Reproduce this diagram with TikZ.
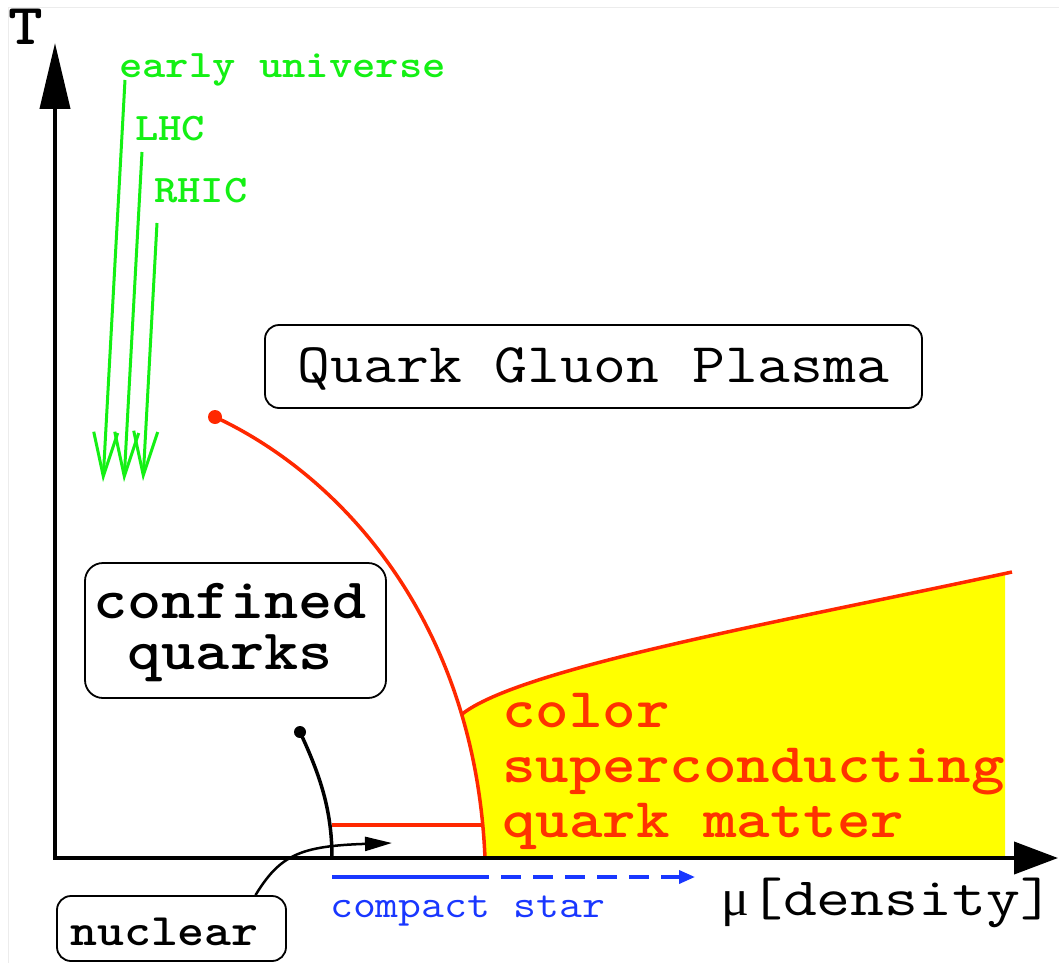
\documentclass[tikz,border=0pt]{standalone}
\usepackage{fontspec}
\setmainfont{Liberation Serif}
\usetikzlibrary{arrows.meta}
\definecolor{grn}{RGB}{20,240,20}
\definecolor{rd}{RGB}{255,40,0}
\definecolor{rdtxt}{RGB}{255,50,0}
\definecolor{ylw}{RGB}{255,255,0}
\definecolor{bl}{RGB}{25,55,255}
\newcommand{\courw}[1]{\scalebox{1.14}[1]{#1}}
\begin{document}
\begin{tikzpicture}[x=1pt,y=-1pt,
  box/.style={draw,line width=1.8pt,rounded corners=14pt,inner sep=0pt,font=\ttfamily},
  boxtext/.style={anchor=base,inner sep=0pt,font=\ttfamily\bfseries},
  greenarrow/.style={grn,line width=3pt,-{Straight Barb[length=44pt,width=24pt,line width=3pt]}},
  greenlabel/.style={grn,anchor=base west,inner sep=0pt,font=\ttfamily\bfseries\fontsize{39}{40}\selectfont},
  redlabel/.style={rdtxt,anchor=base west,inner sep=0pt,font=\ttfamily\bfseries\fontsize{56}{56}\selectfont},
  redline/.style={rd,line width=3.5pt}]
\useasboundingbox (0,0) rectangle (1059,963);
\fill[white] (0,0) rectangle (1059,963);
\draw[gray!15,line width=1pt] (8,963) -- (8,8) -- (1059,8);

% phase boundary curve and junction
\coordinate (C) at (215,417);
\coordinate (E) at (485,858);
\path (C) .. controls (340,475) and (475,620) .. coordinate[pos=0.78] (J) (E);
\coordinate (R) at (1012,572);

% yellow region
\begin{scope}
\clip (0,0) rectangle (1005,963);
\fill[ylw] (J) .. controls (520,668) and (780,622) .. (R) -- (1012,858) -- (E)
  .. controls (482.8,805.6) and (474.5,757.8) .. (J) -- cycle;
\end{scope}

% red lines
\draw[redline] (C) .. controls (340,475) and (475,620) .. (E);
\fill[rd] (C) circle (7);
\draw[redline] (J) .. controls (520,668) and (780,622) .. (R);
\coordinate (H1) at (332,825);
\coordinate (H2) at (483,825);
\draw[redline] (H1) -- (H2);

% axes
\coordinate (O) at (55,858);
\coordinate (Ttip) at (55,43);
\coordinate (Mtip) at (1058,858);
\draw[line width=4pt,line join=miter,{Triangle[length=66pt,width=30pt]}-{Triangle[length=44pt,width=32pt]}] (Ttip) -- (O) -- (Mtip);
\node[font=\ttfamily\bfseries\fontsize{58}{58}\selectfont,inner sep=0pt,anchor=base] (Tlab) at (26,45) {\courw{T}};
\node[anchor=base west,inner sep=0pt] (mulab) at (721,915)
  {\fontsize{52}{52}\selectfont μ\ttfamily\fontsize{54}{54}\selectfont\scalebox{1.22}[1]{[density]}};

% green arrows
\coordinate (eu1) at (125,80);  \coordinate (eu2) at (103,482);
\coordinate (lhc1) at (142,152); \coordinate (lhc2) at (124,482);
\coordinate (rh1) at (157,223); \coordinate (rh2) at (143,481);
\draw[greenarrow] (eu1) -- (eu2);
\draw[greenarrow] (lhc1) -- (lhc2);
\draw[greenarrow] (rh1) -- (rh2);
\node[greenlabel] (eulab) at (119,78) {\courw{early universe}};
\node[greenlabel] (lhclab) at (135,140) {\courw{LHC}};
\node[greenlabel] (rhiclab) at (154,202) {\courw{RHIC}};

% boxes
\node[box,minimum width=657pt,minimum height=83pt,text height=34pt,text depth=3pt,
  font=\ttfamily\fontsize{56}{56}\selectfont] (qgp) at (593.5,366.5) {\courw{Quark Gluon Plasma}};
\node[box,minimum width=301pt,minimum height=135pt,rounded corners=18pt] (conf) at (235.5,630.5) {};
\node[boxtext,font=\ttfamily\bfseries\fontsize{57}{57}\selectfont] (conf1) at (230,618) {\courw{confined}};
\node[boxtext,font=\ttfamily\bfseries\fontsize{57}{57}\selectfont] (conf2) at (230,669) {\courw{quarks}};
\node[box,minimum width=229pt,minimum height=65pt] (nuc) at (171.5,928.5) {};
\node[boxtext,font=\ttfamily\bfseries\fontsize{45}{45}\selectfont] (nuctext) at (164.5,945) {\courw{nuclear}};

% nuclear liquid-gas line
\coordinate (K) at (300,732);
\coordinate (Kb) at (332,858);
\fill (K) circle (6);
\draw[line width=3.5pt] (K) .. controls (320,775) and (332,810) .. (Kb);

% nuclear arrow
\coordinate (nucend) at (392,843);
\draw[line width=2.5pt,-{Triangle[length=27pt,width=14pt]}]
  ([xshift=84pt]nuc.north) .. controls (280,855) and (300,846) .. (nucend);

% compact star
\coordinate (B1) at (332,877);
\coordinate (B2) at (469,877);
\coordinate (B3) at (695,877);
\draw[bl,line width=4pt] (B1) -- (B2);
\draw[bl,line width=3.5pt,dash pattern=on 20pt off 12pt,-{Triangle[length=16pt,width=13pt]}] (B2) -- (B3);
\node[bl,anchor=base west,inner sep=0pt,font=\ttfamily\fontsize{39}{39}\selectfont] (cs) at (330,917) {\courw{compact star}};

% color superconducting
\node[redlabel] (r1) at (502,727) {\courw{color}};
\node[redlabel] (r2) at (502,782) {\courw{superconducting}};
\node[redlabel] (r3) at (502,837) {\courw{quark matter}};
\end{tikzpicture}
\end{document}
